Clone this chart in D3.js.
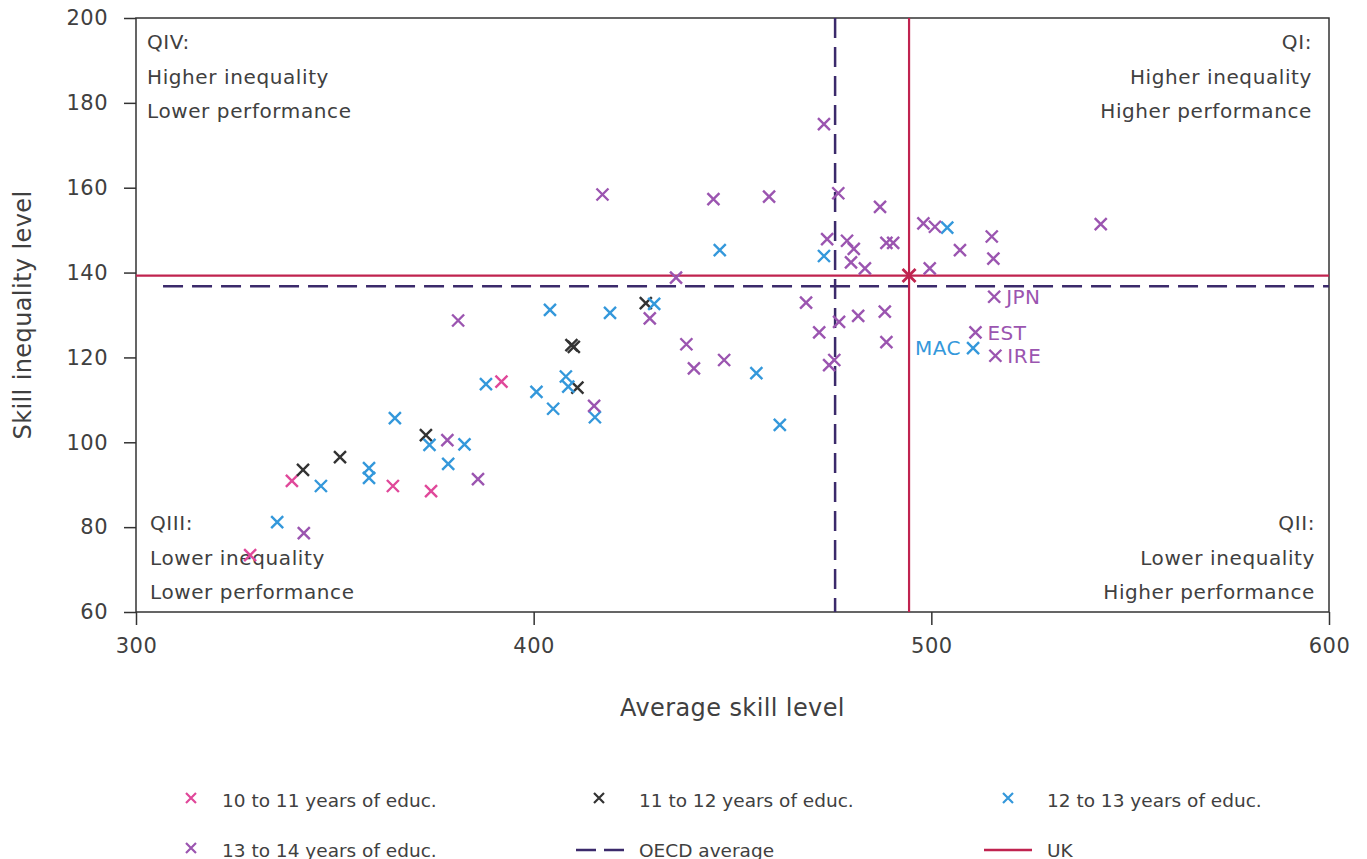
<!DOCTYPE html>
<html>
<head>
<meta charset="utf-8">
<script src="https://cdn.jsdelivr.net/npm/d3@7"></script>
<style>
  body { margin: 0; background: #fff; }
  svg { display: block; font-family: 'DejaVu Sans', sans-serif; }
</style>
</head>
<body>
<svg id="chart" width="1367" height="859"></svg>
<script>
// [average skill, skill inequality]
const educ10to11 = [[328.7, 73.4], [339.2, 90.9], [364.6, 89.7], [374.2, 88.5], [391.9, 114.3]]
const educ11to12 = [[342.0, 93.5], [351.3, 96.5], [372.9, 101.7], [409.5, 122.9], [410.1, 122.5],
  [411.0, 112.9], [428.2, 132.8]]
const educ12to13 = [[335.5, 81.2], [346.5, 89.7], [358.6, 93.9], [358.6, 91.6], [365.1, 105.7],
  [373.8, 99.4], [378.5, 94.9], [382.6, 99.5], [388.0, 113.7], [400.7, 111.9], [404.1, 131.2],
  [404.9, 107.9], [408.1, 115.5], [408.7, 113.1], [415.4, 105.9], [419.2, 130.5], [430.3, 132.6],
  [446.8, 145.3], [456.0, 116.3], [461.9, 104.1], [473.0, 143.9], [504.0, 150.6], [510.5, 122.2]]
const educ13to14 = [[342.2, 78.6], [378.3, 100.5], [386.0, 91.3], [381.0, 128.7], [415.2, 108.6],
  [417.3, 158.4], [429.2, 129.2], [435.8, 138.8], [438.4, 123.1], [440.3, 117.4], [445.2, 157.3],
  [447.9, 119.4], [459.2, 157.9], [468.5, 132.9], [471.8, 125.9], [473.0, 175.0], [473.8, 147.9],
  [474.3, 118.2], [475.6, 119.4], [476.6, 158.7], [476.8, 128.4], [478.8, 147.5], [479.8, 142.4],
  [480.5, 145.6], [481.6, 129.8], [483.3, 141.0], [487.1, 155.5], [488.3, 130.8], [488.7, 123.6],
  [488.7, 147.0], [490.4, 147.0], [498.0, 151.6], [499.6, 141.0], [500.9, 150.8], [507.2, 145.3],
  [511.1, 125.9], [515.2, 148.5], [515.6, 143.3], [515.8, 134.3], [516.1, 120.4], [542.6, 151.4]]
const ukPoint = [494.4, 139.3]
const oecdAverage = [475.8, 136.8]
const oecdLineStart = 306.8 // dashed horizontal starts a bit right of the axis

// [code, x, y, side]
const countryLabels = [['JPN', 515.8, 134.3, 'right'], ['EST', 511.1, 125.9, 'right'],
  ['IRE', 516.1, 120.4, 'right'], ['MAC', 510.5, 122.2, 'left']]

const xTicks = [300, 400, 500, 600]
const yTicks = [60, 80, 100, 120, 140, 160, 180, 200]

const seriesNames = ['10 to 11 years of educ.', '11 to 12 years of educ.', '12 to 13 years of educ.', '13 to 14 years of educ.']
const seriesColors = ['#e0489a', '#333333', '#3498db', '#9b55b0']
const oecdColor = '#3b2a6b'
const ukColor = '#c0234f'
const textColor = '#404040'

const svg = d3.select('#chart')
const margin = { left: 136, right: 1329, top: 18, bottom: 612 }

const x = d3.scaleLinear().domain([300, 600]).range([margin.left, margin.right])
const y = d3.scaleLinear().domain([60, 200]).range([margin.bottom, margin.top])

// 坐标轴
svg.append('g')
  .attr('transform', `translate(0, ${margin.bottom})`)
  .call(d3.axisBottom(x).tickValues(xTicks).tickSize(13).tickPadding(10))
  .call(g => g.select('.domain').remove())
  .call(g => g.selectAll('line').attr('stroke', '#333').attr('stroke-width', 1.5))
  .call(g => g.selectAll('text').attr('font-size', 21).attr('fill', textColor).attr('dy', '0.85em')
    .attr('font-family', 'DejaVu Sans').attr('letter-spacing', 0.5))

svg.append('g')
  .attr('transform', `translate(${margin.left}, 0)`)
  .call(d3.axisLeft(y).tickValues(yTicks).tickSize(12).tickPadding(16))
  .call(g => g.select('.domain').remove())
  .call(g => g.selectAll('line').attr('stroke', '#333').attr('stroke-width', 1.5))
  .call(g => g.selectAll('text').attr('font-size', 21).attr('fill', textColor)
    .attr('font-family', 'DejaVu Sans').attr('letter-spacing', 0.5))

// frame
svg.append('rect')
  .attr('x', margin.left)
  .attr('y', margin.top)
  .attr('width', margin.right - margin.left)
  .attr('height', margin.bottom - margin.top)
  .attr('fill', 'none')
  .attr('stroke', '#333')
  .attr('stroke-width', 1.5)

// axis titles
svg.append('text')
  .attr('x', (margin.left + margin.right) / 2)
  .attr('y', 716)
  .attr('text-anchor', 'middle')
  .attr('font-size', 24)
  .attr('letter-spacing', 0.4)
  .attr('fill', textColor)
  .text('Average skill level')

svg.append('text')
  .attr('transform', `translate(31, ${(margin.top + margin.bottom) / 2}) rotate(-90)`)
  .attr('text-anchor', 'middle')
  .attr('font-size', 24)
  .attr('letter-spacing', 0.4)
  .attr('fill', textColor)
  .text('Skill inequality level')

// quadrant texts
const quadrants = [
  { lines: ['QIV:', 'Higher inequality', 'Lower performance'], x: margin.left + 11, y: 49, anchor: 'start' },
  { lines: ['QI:', 'Higher inequality', 'Higher performance'], x: margin.right - 17, y: 49, anchor: 'end' },
  { lines: ['QIII:', 'Lower inequality', 'Lower performance'], x: margin.left + 14, y: 530, anchor: 'start' },
  { lines: ['QII:', 'Lower inequality', 'Higher performance'], x: margin.right - 14, y: 530, anchor: 'end' }
]
quadrants.forEach(q => {
  svg.append('g').selectAll('text')
    .data(q.lines)
    .join('text')
    .attr('x', q.x)
    .attr('y', (d, i) => q.y + i * 34.5)
    .attr('text-anchor', q.anchor)
    .attr('font-size', 20)
    .attr('letter-spacing', 0.6)
    .attr('fill', textColor)
    .text(d => d)
})

// reference lines
const refs = svg.append('g')
refs.append('line')
  .attr('x1', x(oecdAverage[0])).attr('x2', x(oecdAverage[0]))
  .attr('y1', y(200)).attr('y2', y(60))
  .attr('stroke', oecdColor).attr('stroke-width', 2.5).attr('stroke-dasharray', '20,9')
refs.append('line')
  .attr('x1', x(oecdLineStart)).attr('x2', x(600))
  .attr('y1', y(oecdAverage[1])).attr('y2', y(oecdAverage[1]))
  .attr('stroke', oecdColor).attr('stroke-width', 2.5).attr('stroke-dasharray', '20,9')
refs.append('line')
  .attr('x1', x(ukPoint[0])).attr('x2', x(ukPoint[0]))
  .attr('y1', y(200)).attr('y2', y(60))
  .attr('stroke', ukColor).attr('stroke-width', 2.2)
refs.append('line')
  .attr('x1', x(300)).attr('x2', x(600))
  .attr('y1', y(ukPoint[1])).attr('y2', y(ukPoint[1]))
  .attr('stroke', ukColor).attr('stroke-width', 2.2)

// X marker
function cross(sel, size) {
  sel.append('path')
    .attr('d', `M${-size},${-size}L${size},${size}M${-size},${size}L${size},${-size}`)
}

const seriesData = [educ10to11, educ11to12, educ12to13, educ13to14]
seriesData.forEach((data, i) => {
  svg.append('g')
    .attr('stroke', seriesColors[i])
    .attr('stroke-width', 2.4)
    .attr('fill', 'none')
    .selectAll('g')
    .data(data)
    .join('g')
    .attr('transform', d => `translate(${x(d[0])}, ${y(d[1])})`)
    .call(cross, 6)
})

// UK point
svg.append('g')
  .attr('transform', `translate(${x(ukPoint[0])}, ${y(ukPoint[1])})`)
  .attr('stroke', ukColor)
  .attr('stroke-width', 2.8)
  .call(cross, 6.5)

// country labels
svg.append('g').selectAll('text')
  .data(countryLabels)
  .join('text')
  .attr('x', d => x(d[1]) + (d[3] === 'right' ? 12 : -12))
  .attr('y', d => y(d[2]))
  .attr('dy', '0.36em')
  .attr('text-anchor', d => d[3] === 'right' ? 'start' : 'end')
  .attr('font-size', 20)
  .attr('letter-spacing', 0.5)
  .attr('fill', d => d[0] === 'MAC' ? seriesColors[2] : seriesColors[3])
  .text(d => d[0])

// 图例
const legendItems = [
  { label: seriesNames[0], type: 'x', color: seriesColors[0], mx: 191, tx: 222, ty: 800 },
  { label: seriesNames[1], type: 'x', color: seriesColors[1], mx: 599, tx: 639, ty: 800 },
  { label: seriesNames[2], type: 'x', color: seriesColors[2], mx: 1008, tx: 1047, ty: 800 },
  { label: seriesNames[3], type: 'x', color: seriesColors[3], mx: 191, tx: 222, ty: 850 },
  { label: 'OECD average', type: 'dash', color: oecdColor, mx: 600, tx: 639, ty: 850 },
  { label: 'UK', type: 'line', color: ukColor, mx: 1008, tx: 1047, ty: 850 }
]
const legend = svg.append('g')
legendItems.forEach(it => {
  if (it.type === 'x') {
    legend.append('g')
      .attr('transform', `translate(${it.mx}, ${it.ty - 2})`)
      .attr('stroke', it.color)
      .attr('stroke-width', 2.2)
      .call(cross, 5)
  } else {
    legend.append('line')
      .attr('x1', it.mx - 24).attr('x2', it.mx + 24)
      .attr('y1', it.ty).attr('y2', it.ty)
      .attr('stroke', it.color)
      .attr('stroke-width', 2.5)
      .attr('stroke-dasharray', it.type === 'dash' ? '20,8' : null)
  }
  legend.append('text')
    .attr('x', it.tx)
    .attr('y', it.ty)
    .attr('dy', '0.36em')
    .attr('font-size', 18.5)
    .attr('fill', textColor)
    .text(it.label)
})
</script>
</body>
</html>
